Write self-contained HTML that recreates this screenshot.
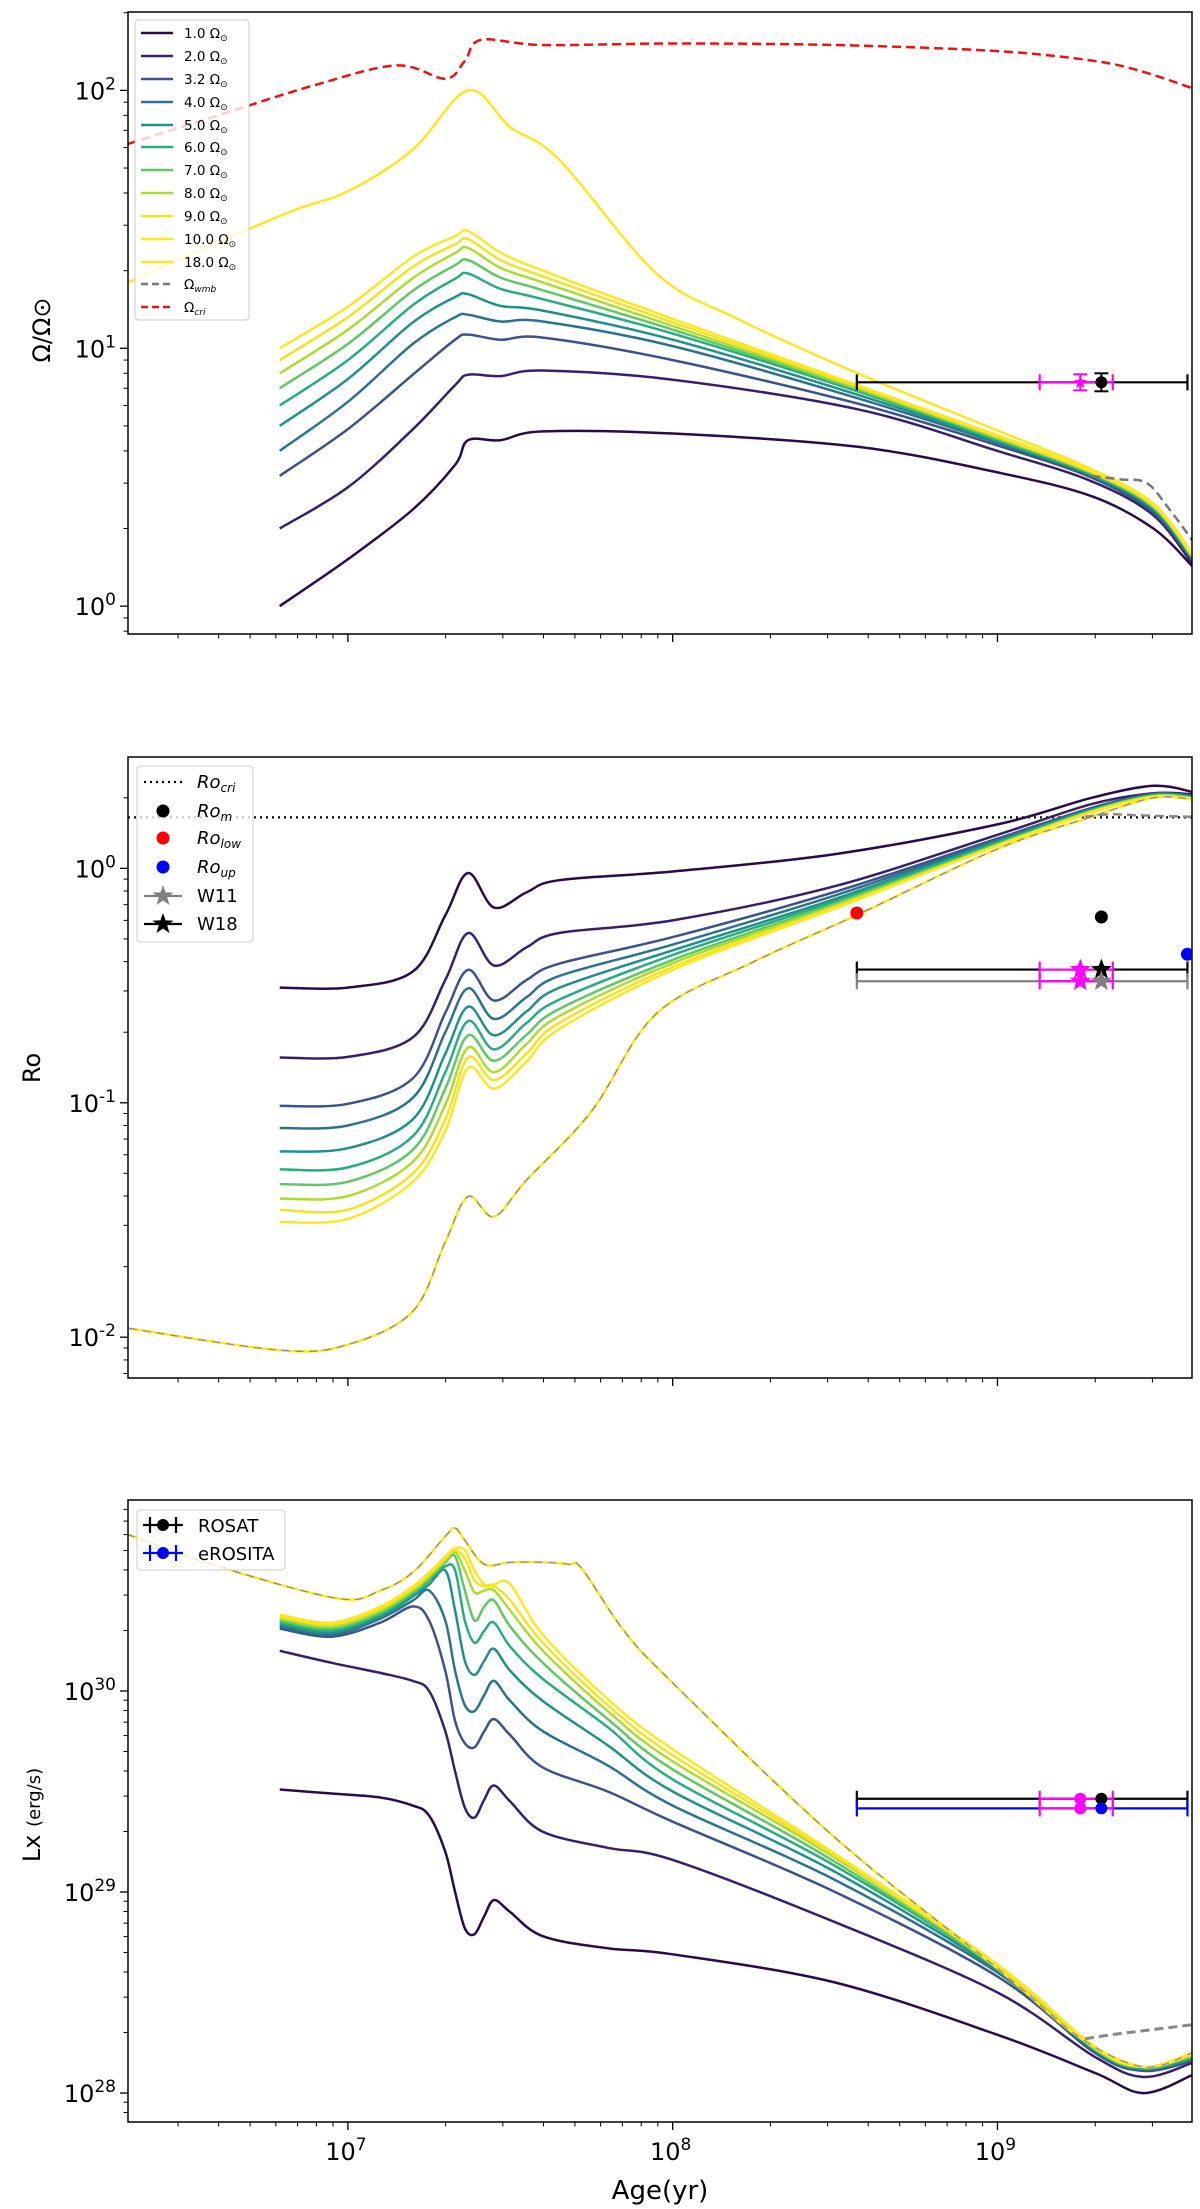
<!DOCTYPE html>
<html><head><meta charset="utf-8"><style>
html,body{margin:0;padding:0;background:#fff;}
svg{display:block;font-family:"DejaVu Sans","Liberation Sans",sans-serif;}
</style></head><body>
<svg id="fig" xmlns="http://www.w3.org/2000/svg" width="1200" height="2209" viewBox="0 0 1200 2209">
<rect width="1200" height="2209" fill="#fff"/>
</svg>
<script>
// ---------- data (log10 age in yr) ----------
const omegaInit = ["1.0","2.0","3.2","4.0","5.0","6.0","7.0","8.0","9.0","10.0","18.0"];
const colors = ["#2b0a4a","#36206b","#3b528b","#2c728e","#21908d","#27ad81","#5ec962","#addc30","#f7e21f","#fde725","#fde725"];

// Panel 1: Omega / Omega_sun
const p1Ages = [6.79,7.0,7.2,7.33,7.37,7.47,7.6,8.0,8.57,9.0,9.29,9.48,9.6];
const om1 = [1.0,1.52,2.37,3.53,4.4,4.4,4.76,4.67,4.15,3.3,2.67,2.0,1.43];
const om2 = [2.0,2.89,4.85,7.2,7.9,7.8,8.2,7.55,5.8,4.0,3.05,2.25,1.46];
const om3 = [3.2,4.86,7.9,10.8,11.3,10.8,11.0,9.0,6.1,4.2,3.15,2.3,1.5];
const om4 = [4.0,6.2,10.4,13.2,13.5,12.7,12.7,10.2,6.4,4.3,3.2,2.35,1.52];
const om5 = [5.0,7.6,12.6,15.8,16.2,14.6,14.0,10.8,6.6,4.35,3.22,2.38,1.53];
const om6 = [6.0,9.0,14.7,18.6,19.5,17.0,15.5,11.4,6.8,4.4,3.25,2.4,1.54];
const om7 = [7.0,10.4,16.7,21,22,18.8,16.8,11.8,6.9,4.45,3.27,2.42,1.55];
const om8 = [8.0,11.8,18.7,23.4,24.5,20.5,18,12.2,7.0,4.5,3.3,2.44,1.56];
const om9 = [9.0,13.2,20.7,25.3,26.5,22,19,12.6,7.1,4.55,3.32,2.46,1.57];
const om10 = [10,14.5,22.6,27.2,28.5,23.5,20,13,7.2,4.6,3.35,2.48,1.58];
const om18Ages = [6.323,6.8,7.0,7.2,7.37,7.5,7.65,7.95,8.2,8.57,9.0,9.29,9.48,9.6];
const om18 = [18,33,40.6,59,100,72,54,19.5,13,8,4.8,3.4,2.5,1.6];
const omWmbAges = [9.29,9.38,9.46,9.53,9.6];
const omWmb = [3.2,3.1,3.0,2.37,1.8];
const omCriAges = [6.323,6.6,6.9,7.15,7.3,7.36,7.41,7.6,8.0,8.5,9.0,9.3,9.45,9.6];
const omCri = [62,80,105,125,111,130,157,150,152,150,142,130,118,102];
const omObs = 7.38;

// Panel 2: Rossby number
const p2Ages = [6.79,7.0,7.2,7.3,7.37,7.45,7.55,7.65,8.0,8.5,9.0,9.29,9.48,9.6];
const ro1 = [0.31,0.31,0.363,0.63,0.955,0.68,0.79,0.89,0.97,1.15,1.54,2.0,2.25,2.12];
const ro2 = [0.156,0.157,0.19,0.334,0.53,0.385,0.46,0.53,0.6,0.84,1.39,1.88,2.09,2.07];
const ro3 = [0.097,0.099,0.127,0.242,0.369,0.273,0.334,0.392,0.509,0.794,1.34,1.81,2.08,2.04];
const ro4 = [0.078,0.080,0.105,0.2,0.308,0.228,0.282,0.347,0.473,0.767,1.32,1.79,2.07,2.03];
const ro5 = [0.062,0.064,0.085,0.162,0.257,0.194,0.245,0.309,0.447,0.741,1.30,1.78,2.06,2.02];
const ro6 = [0.052,0.053,0.072,0.135,0.223,0.169,0.219,0.275,0.427,0.724,1.29,1.77,2.05,2.01];
const ro7 = [0.045,0.046,0.063,0.115,0.194,0.151,0.195,0.251,0.407,0.708,1.27,1.76,2.04,2.0];
const ro8 = [0.039,0.040,0.056,0.098,0.172,0.135,0.178,0.234,0.394,0.695,1.26,1.75,2.03,1.99];
const ro9 = [0.035,0.035,0.05,0.085,0.156,0.125,0.162,0.219,0.380,0.684,1.25,1.74,2.02,1.98];
const ro10 = [0.031,0.032,0.046,0.076,0.141,0.115,0.150,0.206,0.369,0.675,1.25,1.73,2.02,1.98];
const ro18Ages = [6.326,6.79,7.0,7.2,7.3,7.37,7.45,7.55,7.75,7.95,8.25,8.57,9.0,9.29,9.48,9.6];
const ro18 = [0.0109,0.0088,0.0093,0.0129,0.0255,0.0398,0.0327,0.0468,0.092,0.24,0.40,0.635,1.21,1.66,2.0,1.97];
const roWmbAges = [9.27,9.35,9.45,9.6];
const roWmb = [1.66,1.70,1.68,1.66];
const roCri = 1.65;
const roM = 0.62, roLow = 0.645, roUp = 0.43, roW18 = 0.37, roW11 = 0.33;

// Panel 3: log10 Lx (erg/s)
const p3Ages = [6.79,6.95,7.1,7.2,7.25,7.3,7.33,7.36,7.39,7.42,7.45,7.5,7.6,7.8,8.0,8.5,9.0,9.3,9.45,9.6];
const lx1 = [29.51,29.49,29.47,29.43,29.38,29.2,29.0,28.82,28.79,28.88,28.96,28.9,28.78,28.72,28.69,28.55,28.29,28.1,28.0,28.09];
const lx2 = [30.2,30.14,30.09,30.05,30.0,29.8,29.6,29.42,29.37,29.46,29.53,29.45,29.3,29.22,29.16,28.85,28.5,28.18,28.08,28.15];
const lx3 = [30.31,30.27,30.34,30.42,30.35,30.1,29.85,29.74,29.72,29.8,29.86,29.78,29.62,29.5,29.35,29.0,28.58,28.2,28.11,28.16];
const lx4 = [30.32,30.28,30.36,30.45,30.5,30.35,30.1,29.93,29.9,29.98,30.05,29.95,29.8,29.63,29.43,29.06,28.6,28.21,28.12,28.17];
const lx5 = [30.33,30.29,30.37,30.47,30.53,30.6,30.4,30.15,30.08,30.15,30.21,30.1,29.95,29.73,29.5,29.1,28.61,28.21,28.12,28.17];
const lx6 = [30.34,30.3,30.38,30.48,30.55,30.62,30.6,30.35,30.24,30.3,30.34,30.22,30.06,29.82,29.56,29.13,28.62,28.22,28.12,28.18];
const lx7 = [30.35,30.31,30.39,30.49,30.56,30.64,30.67,30.5,30.35,30.42,30.45,30.32,30.14,29.86,29.61,29.15,28.62,28.22,28.13,28.18];
const lx8 = [30.36,30.32,30.4,30.5,30.57,30.65,30.69,30.6,30.49,30.5,30.5,30.4,30.2,29.9,29.65,29.17,28.63,28.22,28.13,28.19];
const lx9 = [30.37,30.33,30.41,30.51,30.58,30.66,30.7,30.66,30.55,30.52,30.52,30.45,30.24,29.93,29.68,29.18,28.63,28.23,28.13,28.19];
const lx10 = [30.38,30.34,30.42,30.52,30.59,30.67,30.71,30.7,30.6,30.53,30.53,30.53,30.28,29.96,29.71,29.19,28.64,28.23,28.13,28.2];
const lx18Ages = [6.32,6.6,6.97,7.1,7.2,7.3,7.33,7.36,7.42,7.5,7.6,7.68,7.72,7.85,8.0,8.5,9.0,9.25,9.45,9.6];
const lx18 = [30.78,30.62,30.46,30.5,30.59,30.77,30.81,30.75,30.63,30.64,30.64,30.63,30.61,30.3,30.04,29.27,28.62,28.28,28.13,28.2];
const lxWmbAges = [9.27,9.35,9.45,9.6];
const lxWmb = [28.27,28.29,28.31,28.34];
const lxRosat = 29.464, lxErosita = 29.416;

// observation ages (log10 yr)
const obsAgeLow = 8.567, obsAgeHigh = 9.585, obsAgeM = 9.32;
const magAgeLow = 9.13, magAgeHigh = 9.355, magAge = 9.255;

// ---------- layout ----------
const X0 = 128, X1 = 1192, XMIN = 6.323, XMAX = 9.599;
const P1 = {t:12, b:634, lo:-0.108, hi:2.304};
const P2 = {t:757, b:1378, lo:-2.174, hi:0.475};
const P3 = {t:1500, b:2122, lo:27.856, hi:30.95};
const svg = document.getElementById('fig');
const NS = 'http://www.w3.org/2000/svg';
function xs(a){ return X0 + (a - XMIN)/(XMAX - XMIN)*(X1 - X0); }
function ysLog(p, lv){ return p.b - (lv - p.lo)/(p.hi - p.lo)*(p.b - p.t); }
function ys(p, v){ return ysLog(p, Math.log10(v)); }
function mk(tag, attrs, parent){
  const e = document.createElementNS(NS, tag);
  for (const k in attrs) e.setAttribute(k, attrs[k]);
  (parent || svg).appendChild(e);
  return e;
}
function smoothPath(pts){
  let d = 'M' + pts[0][0].toFixed(1) + ',' + pts[0][1].toFixed(1);
  for (let i = 0; i < pts.length - 1; i++){
    const p0 = pts[i-1] || pts[i], p1 = pts[i], p2 = pts[i+1], p3 = pts[i+2] || p2;
    const c1 = [p1[0] + (p2[0]-p0[0])/6, p1[1] + (p2[1]-p0[1])/6];
    const c2 = [p2[0] - (p3[0]-p1[0])/6, p2[1] - (p3[1]-p1[1])/6];
    d += 'C' + c1[0].toFixed(1)+','+c1[1].toFixed(1)+' '+c2[0].toFixed(1)+','+c2[1].toFixed(1)+' '+p2[0].toFixed(1)+','+p2[1].toFixed(1);
  }
  return d;
}
function curve(p, ages, vals, isLog, style, name, g){
  const pts = ages.map((a,i) => [xs(a), isLog ? ysLog(p, vals[i]) : ys(p, vals[i])]);
  const e = mk('path', Object.assign({d: smoothPath(pts), fill:'none', 'stroke-linejoin':'round'}, style), g);
  
  
  return e;
}
function clipFor(p, id){
  const cp = mk('clipPath', {id:id});
  mk('rect', {x:X0, y:p.t, width:X1-X0, height:p.b-p.t}, cp);
  const g = mk('g', {'clip-path':'url(#'+id+')'});
  return g;
}
function axes(p, name, showXLabels){
  const g = mk('g', {});
  
  
  for (let d = 6; d <= 9; d++){
    for (let m = 1; m <= 9; m++){
      const lv = d + Math.log10(m);
      if (lv < XMIN || lv > XMAX) continue;
      const x = xs(lv), len = m === 1 ? 8 : 4.5;
      const t = mk('line', {x1:x, x2:x, y1:p.b, y2:p.b+len, stroke:'#000', 'stroke-width': m===1?1.3:1}, g);
      
      
      if (m === 1 && showXLabels){
        const tx = mk('text', {x:x-2, y:p.b+38, 'font-size':24, 'text-anchor':'middle'}, g);
        
        
        tx.innerHTML = '10<tspan dy="-10" font-size="17">' + d + '</tspan>';
      }
    }
  }
  for (let d = Math.floor(p.lo); d <= Math.ceil(p.hi); d++){
    for (let m = 1; m <= 9; m++){
      const lv = d + Math.log10(m);
      if (lv < p.lo || lv > p.hi) continue;
      const y = ysLog(p, lv), len = m === 1 ? 8 : 4.5;
      const t = mk('line', {x1:X0-len, x2:X0, y1:y, y2:y, stroke:'#000', 'stroke-width': m===1?1.3:1}, g);
      
      
      if (m === 1){
        const tx = mk('text', {x:X0-12, y:y+9, 'font-size':24, 'text-anchor':'end'}, g);
        
        
        tx.innerHTML = '10<tspan dy="-10" font-size="17">' + d + '</tspan>';
      }
    }
  }
  const fr = mk('rect', {x:X0, y:p.t, width:X1-X0, height:p.b-p.t, fill:'none', stroke:'#000', 'stroke-width':1.5}, g);
  
  
}
function errbar(g, p, a0, a1, yv, isLog, color, name){
  const y = isLog ? ysLog(p, yv) : ys(p, yv);
  const e = mk('g', {stroke:color, 'stroke-width':2.2}, g);
  
  
  mk('line', {x1:xs(a0), x2:xs(a1), y1:y, y2:y}, e);
  mk('line', {x1:xs(a0), x2:xs(a0), y1:y-8, y2:y+8}, e);
  mk('line', {x1:xs(a1), x2:xs(a1), y1:y-8, y2:y+8}, e);
  return y;
}
function dot(g, x, y, r, color, name){
  const c = mk('circle', {cx:x, cy:y, r:r, fill:color}, g);
  
  
}
function star(g, x, y, r, color, name){
  let d = '';
  for (let i = 0; i < 10; i++){
    const rr = i % 2 ? r*0.42 : r, an = -Math.PI/2 + i*Math.PI/5;
    d += (i ? 'L' : 'M') + (x + rr*Math.cos(an)).toFixed(1) + ',' + (y + rr*Math.sin(an)).toFixed(1);
  }
  const s = mk('path', {d: d + 'Z', fill:color}, g);
  
  
}

// ---------- panel 1 ----------
const g1 = clipFor(P1, 'c1');


const omSeries = [om1,om2,om3,om4,om5,om6,om7,om8,om9,om10];
omSeries.forEach((s,i) => curve(P1, p1Ages, s, false, {stroke:colors[i], 'stroke-width':2.5}, 'omega-curve-' + omegaInit[i], g1));
curve(P1, om18Ages, om18, false, {stroke:colors[10], 'stroke-width':2.5}, 'omega-curve-18.0', g1);
curve(P1, omWmbAges, omWmb, false, {stroke:'#777', 'stroke-width':2.5, 'stroke-dasharray':'9,5'}, 'omega-wmb-curve', g1);
curve(P1, omCriAges, omCri, false, {stroke:'#f01010', 'stroke-width':2.5, 'stroke-dasharray':'9,5'}, 'omega-critical-curve', g1);
{
  const y = errbar(g1, P1, obsAgeLow, obsAgeHigh, omObs, false, '#000', 'omega-obs-errorbar');
  errbar(g1, P1, magAgeLow, magAgeHigh, omObs, false, '#ff00ff', 'omega-magenta-errorbar');
  const v = mk('g', {stroke:'#ff00ff', 'stroke-width':2}, g1);
  mk('line', {x1:xs(magAge), x2:xs(magAge), y1:y-8, y2:y+8}, v);
  mk('line', {x1:xs(magAge)-7, x2:xs(magAge)+7, y1:y-8, y2:y-8}, v);
  mk('line', {x1:xs(magAge)-7, x2:xs(magAge)+7, y1:y+8, y2:y+8}, v);
  star(g1, xs(magAge), y, 7, '#ff00ff', 'omega-magenta-star');
  const b = mk('g', {stroke:'#000', 'stroke-width':2}, g1);
  mk('line', {x1:xs(obsAgeM), x2:xs(obsAgeM), y1:y-9, y2:y+9}, b);
  mk('line', {x1:xs(obsAgeM)-7, x2:xs(obsAgeM)+7, y1:y-9, y2:y-9}, b);
  mk('line', {x1:xs(obsAgeM)-7, x2:xs(obsAgeM)+7, y1:y+9, y2:y+9}, b);
  dot(g1, xs(obsAgeM), y, 6, '#000', 'omega-obs-point');
}
axes(P1, 'omega-panel', false);

// ---------- panel 2 ----------
const g2 = clipFor(P2, 'c2');


{
  const yc = ys(P2, roCri);
  const l = mk('line', {x1:X0, x2:X1, y1:yc, y2:yc, stroke:'#000', 'stroke-width':2.2, 'stroke-dasharray':'2,4'}, g2);
  
  
}
const roSeries = [ro1,ro2,ro3,ro4,ro5,ro6,ro7,ro8,ro9,ro10];
roSeries.forEach((s,i) => curve(P2, p2Ages, s, false, {stroke:colors[i], 'stroke-width':2.5}, 'ro-curve-' + omegaInit[i], g2));
curve(P2, ro18Ages, ro18, false, {stroke:colors[10], 'stroke-width':2.5}, 'ro-curve-18.0', g2);
curve(P2, ro18Ages, ro18, false, {stroke:'#888', 'stroke-width':1.2, 'stroke-dasharray':'8,6'}, 'ro-wmb-overlay', g2);
curve(P2, roWmbAges, roWmb, false, {stroke:'#888', 'stroke-width':2.5, 'stroke-dasharray':'9,5'}, 'ro-wmb-curve', g2);
{
  const y18 = errbar(g2, P2, obsAgeLow, obsAgeHigh, roW18, false, '#000', 'w18-errorbar');
  const y11 = errbar(g2, P2, obsAgeLow, obsAgeHigh, roW11, false, '#808080', 'w11-errorbar');
  errbar(g2, P2, magAgeLow, magAgeHigh, roW18, false, '#ff00ff', 'w18-magenta-errorbar');
  errbar(g2, P2, magAgeLow, magAgeHigh, roW11, false, '#ff00ff', 'w11-magenta-errorbar');
  star(g2, xs(magAge), y18, 11, '#ff00ff', 'w18-magenta-star');
  star(g2, xs(magAge), y11, 11, '#ff00ff', 'w11-magenta-star');
  star(g2, xs(obsAgeM), y18, 11, '#000', 'w18-star');
  star(g2, xs(obsAgeM), y11, 11, '#808080', 'w11-star');
  dot(g2, xs(obsAgeM), ys(P2, roM), 6.5, '#000', 'ro-m-point');
  dot(g2, xs(obsAgeLow), ys(P2, roLow), 6.5, '#ff0000', 'ro-low-point');
  dot(g2, xs(obsAgeHigh), ys(P2, roUp), 6.5, '#0000ff', 'ro-up-point');
}
axes(P2, 'rossby-panel', false);

// ---------- panel 3 ----------
const g3 = clipFor(P3, 'c3');


const lxSeries = [lx1,lx2,lx3,lx4,lx5,lx6,lx7,lx8,lx9,lx10];
lxSeries.forEach((s,i) => curve(P3, p3Ages, s, true, {stroke:colors[i], 'stroke-width':2.5}, 'lx-curve-' + omegaInit[i], g3));
curve(P3, lx18Ages, lx18, true, {stroke:colors[10], 'stroke-width':2.5}, 'lx-curve-18.0', g3);
curve(P3, lx18Ages, lx18, true, {stroke:'#888', 'stroke-width':1.2, 'stroke-dasharray':'8,6'}, 'lx-wmb-overlay', g3);
curve(P3, lxWmbAges, lxWmb, true, {stroke:'#888', 'stroke-width':3, 'stroke-dasharray':'9,5'}, 'lx-wmb-curve', g3);
{
  const yr = errbar(g3, P3, obsAgeLow, obsAgeHigh, lxRosat, true, '#000', 'rosat-errorbar');
  const ye = errbar(g3, P3, obsAgeLow, obsAgeHigh, lxErosita, true, '#0000ff', 'erosita-errorbar');
  errbar(g3, P3, magAgeLow, magAgeHigh, lxRosat, true, '#ff00ff', 'rosat-magenta-errorbar');
  errbar(g3, P3, magAgeLow, magAgeHigh, lxErosita, true, '#ff00ff', 'erosita-magenta-errorbar');
  dot(g3, xs(magAge), yr, 6, '#ff00ff', 'rosat-magenta-point');
  dot(g3, xs(magAge), ye, 6, '#ff00ff', 'erosita-magenta-point');
  dot(g3, xs(obsAgeM), yr, 6, '#000', 'rosat-point');
  dot(g3, xs(obsAgeM), ye, 6, '#0000ff', 'erosita-point');
}
axes(P3, 'xray-panel', true);
</script>

<svg style="position:absolute;left:0;top:0" width="1200" height="2209" xmlns="http://www.w3.org/2000/svg">
<g font-family="DejaVu Sans, Liberation Sans, sans-serif">
  <text transform="translate(50,330) rotate(-90)" font-size="24" text-anchor="middle">Ω/Ω<tspan font-size="24">⊙</tspan></text>
  <text transform="translate(40,1068) rotate(-90)" font-size="24" text-anchor="middle">Ro</text>
  <text transform="translate(40,1815) rotate(-90)" font-size="24" text-anchor="middle">Lx <tspan font-size="18">(erg/s)</tspan></text>
  <text x="660" y="2199" font-size="26" text-anchor="middle">Age(yr)</text>

  <g font-size="13.5">
    <rect x="135" y="20" width="114" height="300" rx="4" fill="#fff" fill-opacity="0.8" stroke="#ccc"/>
    <g stroke-width="2.5">
      <line x1="141" x2="173" y1="33" y2="33" stroke="#2b0a4a"/>
      <line x1="141" x2="173" y1="56" y2="56" stroke="#36206b"/>
      <line x1="141" x2="173" y1="79" y2="79" stroke="#3b528b"/>
      <line x1="141" x2="173" y1="102" y2="102" stroke="#2c728e"/>
      <line x1="141" x2="173" y1="125" y2="125" stroke="#21908d"/>
      <line x1="141" x2="173" y1="147" y2="147" stroke="#27ad81"/>
      <line x1="141" x2="173" y1="170" y2="170" stroke="#5ec962"/>
      <line x1="141" x2="173" y1="193" y2="193" stroke="#addc30"/>
      <line x1="141" x2="173" y1="216" y2="216" stroke="#f7e21f"/>
      <line x1="141" x2="173" y1="239" y2="239" stroke="#fde725"/>
      <line x1="141" x2="173" y1="262" y2="262" stroke="#fde725"/>
      <line x1="141" x2="173" y1="284" y2="284" stroke="#777" stroke-dasharray="7,4"/>
      <line x1="141" x2="173" y1="307" y2="307" stroke="#f01010" stroke-dasharray="7,4"/>
    </g>
    <text x="184" y="38">1.0 Ω<tspan font-size="9" dy="3">⊙</tspan></text>
    <text x="184" y="61">2.0 Ω<tspan font-size="9" dy="3">⊙</tspan></text>
    <text x="184" y="84">3.2 Ω<tspan font-size="9" dy="3">⊙</tspan></text>
    <text x="184" y="107">4.0 Ω<tspan font-size="9" dy="3">⊙</tspan></text>
    <text x="184" y="130">5.0 Ω<tspan font-size="9" dy="3">⊙</tspan></text>
    <text x="184" y="152">6.0 Ω<tspan font-size="9" dy="3">⊙</tspan></text>
    <text x="184" y="175">7.0 Ω<tspan font-size="9" dy="3">⊙</tspan></text>
    <text x="184" y="198">8.0 Ω<tspan font-size="9" dy="3">⊙</tspan></text>
    <text x="184" y="221">9.0 Ω<tspan font-size="9" dy="3">⊙</tspan></text>
    <text x="184" y="244">10.0 Ω<tspan font-size="9" dy="3">⊙</tspan></text>
    <text x="184" y="267">18.0 Ω<tspan font-size="9" dy="3">⊙</tspan></text>
    <text x="184" y="289">Ω<tspan font-size="9" dy="3" font-style="italic">wmb</tspan></text>
    <text x="184" y="312">Ω<tspan font-size="9" dy="3" font-style="italic">cri</tspan></text>
  </g>

  <g font-size="18">
    <rect x="137" y="766" width="116" height="176" rx="4" fill="#fff" fill-opacity="0.8" stroke="#ccc"/>
    <line x1="144" x2="182" y1="782" y2="782" stroke="#000" stroke-width="2.2" stroke-dasharray="2,4"/>
    <circle cx="163" cy="811" r="6.5" fill="#000"/>
    <circle cx="163" cy="838" r="6.5" fill="#f00"/>
    <circle cx="163" cy="867" r="6.5" fill="#00f"/>
    <line x1="144" x2="182" y1="896" y2="896" stroke="#808080" stroke-width="2.2"/>
    <path d="M163,885 L165.6,892.4 L173.5,892.6 L167.2,897.4 L169.5,905 L163,900.5 L156.5,905 L158.8,897.4 L152.5,892.6 L160.4,892.4Z" fill="#808080"/>
    <line x1="144" x2="182" y1="924" y2="924" stroke="#000" stroke-width="2.2"/>
    <path d="M163,913 L165.6,920.4 L173.5,920.6 L167.2,925.4 L169.5,933 L163,928.5 L156.5,933 L158.8,925.4 L152.5,920.6 L160.4,920.4Z" fill="#000"/>
    <text x="197" y="788" font-style="italic">Ro<tspan font-size="12" dy="4">cri</tspan></text>
    <text x="197" y="817" font-style="italic">Ro<tspan font-size="12" dy="4">m</tspan></text>
    <text x="197" y="844" font-style="italic">Ro<tspan font-size="12" dy="4">low</tspan></text>
    <text x="197" y="873" font-style="italic">Ro<tspan font-size="12" dy="4">up</tspan></text>
    <text x="197" y="902">W11</text>
    <text x="197" y="930">W18</text>
  </g>

  <g font-size="18">
    <rect x="137" y="1510" width="148" height="60" rx="4" fill="#fff" fill-opacity="0.8" stroke="#ccc"/>
    <g stroke="#000" stroke-width="2.2"><line x1="143" x2="183" y1="1525" y2="1525"/><line x1="150" x2="150" y1="1517" y2="1533"/><line x1="176" x2="176" y1="1517" y2="1533"/></g>
    <circle cx="163" cy="1525" r="6" fill="#000"/>
    <g stroke="#0000ff" stroke-width="2.2"><line x1="143" x2="183" y1="1553" y2="1553"/><line x1="150" x2="150" y1="1545" y2="1561"/><line x1="176" x2="176" y1="1545" y2="1561"/></g>
    <circle cx="163" cy="1553" r="6" fill="#0000ff"/>
    <text x="198" y="1532">ROSAT</text>
    <text x="198" y="1560">eROSITA</text>
  </g>
</g>
</svg>
</body></html>
